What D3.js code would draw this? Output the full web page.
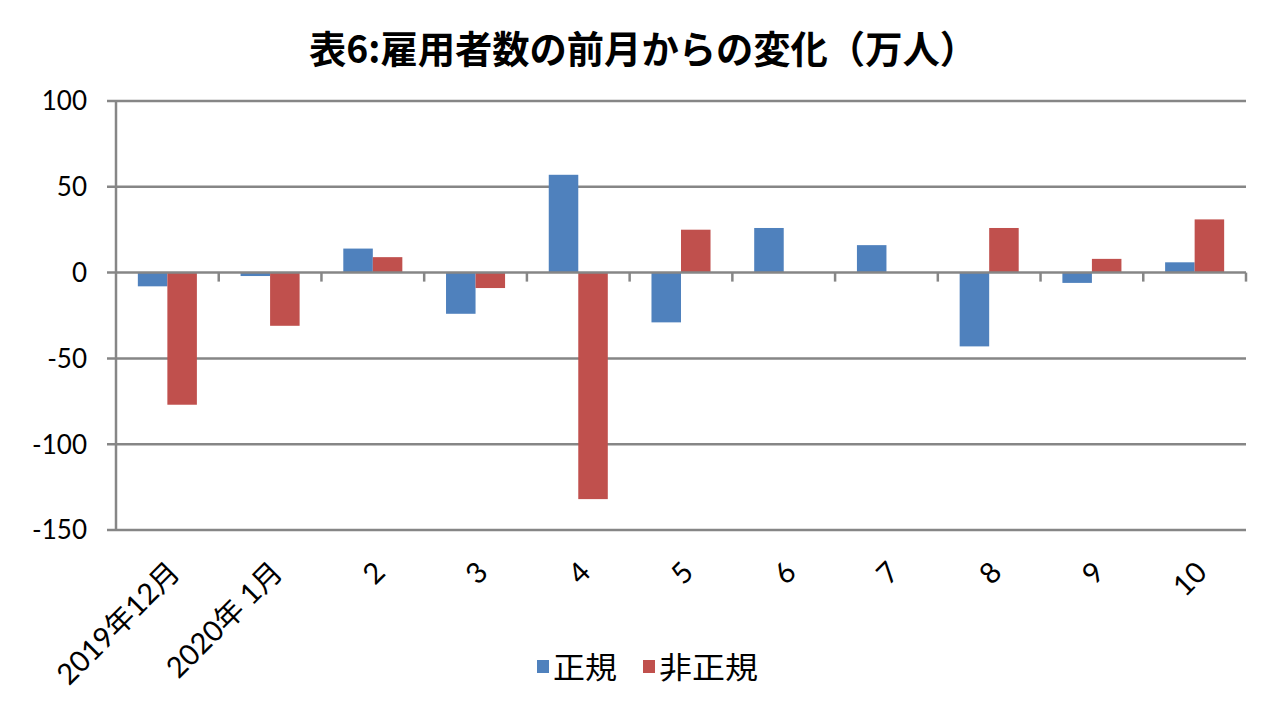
<!DOCTYPE html>
<html>
<head>
<meta charset="utf-8">
<script src="https://cdn.jsdelivr.net/npm/d3@7"></script>
<style>
  body { margin: 0; background: #fff; }
  svg { display: block; }
  text { font-family: "Noto Sans CJK JP", sans-serif; fill: #000; }
  .num { font-family: Lato, "Noto Sans CJK JP", sans-serif; }
</style>
</head>
<body>
<svg id="chart" width="1280" height="704"></svg>
<script>
// ===== Data =====
const months = ["2019年12月", "2020年 1月", "2", "3", "4", "5", "6", "7", "8", "9", "10"];
const seriesNames = ["正規", "非正規"];
const regular = [-8, -2, 14, -24, 57, -29, 26, 16, -43, -6, 6];
const nonRegular = [-77, -31, 9, -9, -132, 25, 0, 0, 26, 8, 31];
const yTicks = [100, 50, 0, -50, -100, -150];

const colors = { "正規": "#4F81BD", "非正規": "#C0504D" };
const gridColor = "#868686";

// rows for drawing
const rows = months.map((m, i) => ({ month: m, "正規": regular[i], "非正規": nonRegular[i] }));

// ===== Layout =====
const svg = d3.select("#chart");
const plot = { left: 116, right: 1246, top: 101, bottom: 530 };

const x = d3.scaleBand().domain(months).range([plot.left, plot.right]).paddingInner(0).paddingOuter(0);
const xSub = d3.scaleBand().domain(seriesNames).range([0, x.bandwidth()]).paddingInner(0).paddingOuter(0.74);
const y = d3.scaleLinear().domain([-150, 100]).range([plot.bottom, plot.top]);

// title
svg.append("text")
  .attr("x", 643)
  .attr("y", 63)
  .attr("text-anchor", "middle")
  .attr("textLength", 668)
  .attr("lengthAdjust", "spacingAndGlyphs")
  .style("font-size", "38px")
  .style("font-weight", "bold")
  .text("表6:雇用者数の前月からの変化（万人）");

// gridlines (behind bars), 0 line drawn later on top
svg.append("g")
  .selectAll("line")
  .data(yTicks.filter(d => d !== 0))
  .join("line")
  .attr("x1", plot.left - 9)
  .attr("x2", plot.right)
  .attr("y1", d => y(d))
  .attr("y2", d => y(d))
  .attr("stroke", gridColor)
  .attr("stroke-width", 2.5);

// y axis line
svg.append("line")
  .attr("x1", plot.left).attr("x2", plot.left)
  .attr("y1", plot.top).attr("y2", plot.bottom)
  .attr("stroke", gridColor)
  .attr("stroke-width", 2.5);

// y tick labels
svg.append("g")
  .selectAll("text")
  .data(yTicks)
  .join("text")
  .attr("class", "num")
  .attr("x", 87)
  .attr("y", d => y(d))
  .attr("dy", "0.36em")
  .attr("text-anchor", "end")
  .style("font-size", "26px")
  .text(d => d);

// bars
const groups = svg.append("g")
  .selectAll("g")
  .data(rows)
  .join("g")
  .attr("transform", d => `translate(${x(d.month)},0)`);

groups.selectAll("rect")
  .data(d => seriesNames.map(k => ({ key: k, value: d[k] })))
  .join("rect")
  .attr("x", d => xSub(d.key))
  .attr("width", xSub.bandwidth())
  .attr("y", d => y(Math.max(0, d.value)))
  .attr("height", d => Math.abs(y(d.value) - y(0)))
  .attr("fill", d => colors[d.key]);

// zero axis line with category ticks
svg.append("line")
  .attr("x1", plot.left - 9)
  .attr("x2", plot.right)
  .attr("y1", y(0))
  .attr("y2", y(0))
  .attr("stroke", gridColor)
  .attr("stroke-width", 2.5);

const bounds = months.map(m => x(m)).concat([plot.right]).slice(1);
svg.append("g")
  .selectAll("line")
  .data(bounds)
  .join("line")
  .attr("x1", d => d).attr("x2", d => d)
  .attr("y1", y(0)).attr("y2", y(0) + 9)
  .attr("stroke", gridColor)
  .attr("stroke-width", 2.5);

// category labels, rotated
svg.append("g")
  .selectAll("text")
  .data(months)
  .join("text")
  .attr("class", "num")
  .attr("text-anchor", "end")
  .attr("dominant-baseline", "central")
  .attr("transform", d => `translate(${x(d) + x.bandwidth() / 2 + 6},566) rotate(-45)`)
  .style("font-size", "29px")
  .text(d => d);

// legend
const legend = svg.append("g");
const legendItems = [
  { key: "正規", sx: 537, tx: 553, w: 64 },
  { key: "非正規", sx: 643, tx: 659, w: 99 }
];
legend.selectAll("rect")
  .data(legendItems)
  .join("rect")
  .attr("x", d => d.sx)
  .attr("y", 660)
  .attr("width", 12)
  .attr("height", 13)
  .attr("fill", d => colors[d.key]);
legend.selectAll("text")
  .data(legendItems)
  .join("text")
  .attr("x", d => d.tx)
  .attr("y", 678)
  .attr("textLength", d => d.w)
  .attr("lengthAdjust", "spacingAndGlyphs")
  .style("font-size", "30px")
  .text(d => d.key);
</script>
</body>
</html>
